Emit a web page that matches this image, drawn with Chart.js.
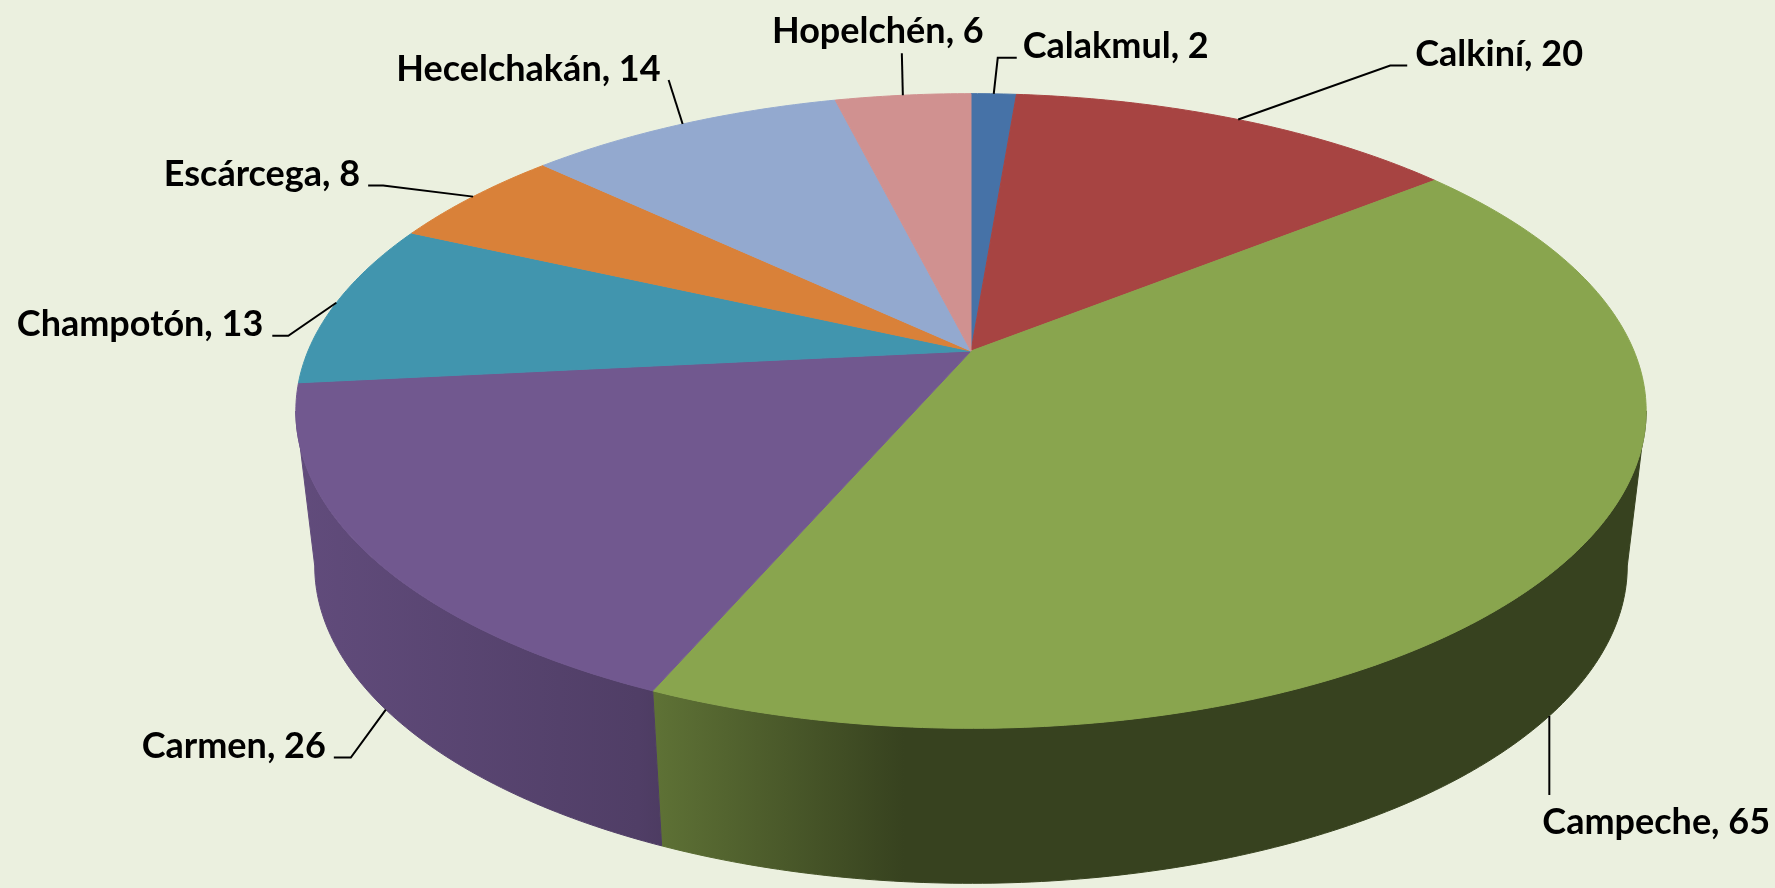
<!DOCTYPE html>
<html>
<head>
<meta charset="utf-8">
<title>Municipios de Campeche</title>
<script src="https://cdn.jsdelivr.net/npm/chart.js@4/dist/chart.umd.min.js"></script>
<style>
    html, body { margin: 0; padding: 0; background: #EBF0DF; overflow: hidden; }
    #chart { display: block; }
</style>
</head>
<body>
<canvas id="chart" width="1775" height="888"></canvas>
<script>
var municipios = ["Calakmul", "Calkiní", "Campeche", "Carmen", "Champotón", "Escárcega", "Hecelchakán", "Hopelchén"];
var valores = [2, 20, 65, 26, 13, 8, 14, 6];

var colores = ["#4672A7", "#A74442", "#89A54E", "#71588F", "#4195AE", "#D98139", "#93A9CF", "#D09190"];

(function(global){
    "use strict";

    // geometry of the tilted pie (perspective view)
    var PIE3D = {
        cx: 971, cy: 351,
        rx: 663, ry: 306,
        persp: 0.189,
        depth: 155,
        baseScale: 0.972
    };

    // leader line + label placement, relative to the slice anchor
    var labelLayout = [
        { base: false, ex: 4,   ey: -36, hx: 19,  align: "left",   tx: 6,   ty: 0 },
        { base: false, ex: 152, ey: -54, hx: 17,  align: "left",   tx: 8,   ty: 0 },
        { base: true,  ex: 0,   ey: 79,  hx: 0,   align: "left",   tx: -7,  ty: 39 },
        { base: true,  ex: -35, ey: 48,  hx: -17, align: "right",  tx: -8,  ty: 0 },
        { base: false, ex: -48, ey: 33,  hx: -16, align: "right",  tx: -9,  ty: 0 },
        { base: false, ex: -90, ey: -11, hx: -15, align: "right",  tx: -8,  ty: 0 },
        { base: false, ex: -14, ey: -44, hx: 0,   align: "right",  tx: -8,  ty: 1 },
        { base: false, ex: -1,  ey: -42, hx: 0,   align: "center", tx: -24, ty: -10 }
    ];

    var project = function(theta, base) {
        var u = Math.cos(theta);
        var v = -Math.sin(theta);
        var w = 1 + PIE3D.persp * v;
        var s = base ? PIE3D.baseScale : 1;
        return {
            x: PIE3D.cx + PIE3D.rx * s * u / w,
            y: PIE3D.cy - PIE3D.ry * v / w + (base ? PIE3D.depth : 0)
        };
    };

    var shade = function(hex, f) {
        var n = parseInt(hex.slice(1), 16);
        var r = Math.round(((n >> 16) & 255) * f);
        var g = Math.round(((n >> 8) & 255) * f);
        var b = Math.round((n & 255) * f);
        return "rgb(" + r + "," + g + "," + b + ")";
    };

    var arcPoints = function(a0, a1, base) {
        var pts = [];
        var steps = Math.max(2, Math.ceil(Math.abs(a1 - a0) * 80));
        for(var i = 0; i <= steps; i++) {
            pts.push(project(a0 + (a1 - a0) * i / steps, base));
        }
        return pts;
    };

    var drawWalls = function(ctx, arcs) {
        // only the part of the rim that faces the viewer
        var edge = Math.asin(PIE3D.persp);
        for(var i = 0; i < arcs.length; i++) {
            var a0 = Math.max(arcs[i].startAngle, edge);
            var a1 = Math.min(arcs[i].endAngle, Math.PI - edge);
            if(a1 <= a0) {
                continue;
            }
            var top = arcPoints(a0, a1, false);
            var bot = arcPoints(a1, a0, true);
            var color = arcs[i].options.backgroundColor;

            var grad = ctx.createLinearGradient(260, 0, 1660, 0);
            grad.addColorStop(0, shade(color, 0.88));
            grad.addColorStop(0.27, shade(color, 0.71));
            grad.addColorStop(0.46, shade(color, 0.40));
            grad.addColorStop(1, shade(color, 0.40));

            ctx.beginPath();
            ctx.moveTo(top[0].x, top[0].y);
            for(var j = 1; j < top.length; j++) {
                ctx.lineTo(top[j].x, top[j].y);
            }
            for(var k = 0; k < bot.length; k++) {
                ctx.lineTo(bot[k].x, bot[k].y);
            }
            ctx.closePath();
            ctx.fillStyle = grad;
            ctx.strokeStyle = grad;
            ctx.lineWidth = 1;
            ctx.fill();
            ctx.stroke();
        }
    };

    var drawTops = function(ctx, arcs) {
        for(var i = 0; i < arcs.length; i++) {
            var pts = arcPoints(arcs[i].startAngle, arcs[i].endAngle, false);
            ctx.beginPath();
            ctx.moveTo(PIE3D.cx, PIE3D.cy);
            for(var j = 0; j < pts.length; j++) {
                ctx.lineTo(pts[j].x, pts[j].y);
            }
            ctx.closePath();
            ctx.fillStyle = arcs[i].options.backgroundColor;
            ctx.strokeStyle = arcs[i].options.backgroundColor;
            ctx.lineWidth = 1;
            ctx.fill();
            ctx.stroke();
        }
    };

    var drawLabels = function(ctx, arcs, labels, data) {
        ctx.save();
        ctx.strokeStyle = "#000000";
        ctx.fillStyle = "#000000";
        ctx.lineWidth = 2;
        ctx.font = "bold 36px Lato";
        ctx.textBaseline = "alphabetic";

        for(var i = 0; i < arcs.length; i++) {
            var lay = labelLayout[i];
            var mid = (arcs[i].startAngle + arcs[i].endAngle) / 2;
            var p = project(mid, lay.base);
            var elbow = { x: p.x + lay.ex, y: p.y + lay.ey };
            var end = { x: elbow.x + lay.hx, y: elbow.y };

            ctx.beginPath();
            ctx.moveTo(p.x, p.y);
            ctx.lineTo(elbow.x, elbow.y);
            if(lay.hx) {
                ctx.lineTo(end.x, end.y);
            }
            ctx.stroke();

            ctx.textAlign = lay.align;
            ctx.fillText(labels[i] + ", " + data[i], end.x + lay.tx, end.y + lay.ty);
        }
        ctx.restore();
    };

    var pie3dPlugin = {
        id: "pie3d",
        beforeDatasetsDraw: function(chart) {
            var ctx = chart.ctx;
            var arcs = chart.getDatasetMeta(0).data;

            ctx.save();
            drawWalls(ctx, arcs);
            drawTops(ctx, arcs);
            ctx.restore();

            drawLabels(ctx, arcs, chart.data.labels, chart.data.datasets[0].data);

            return false; // the flat pie is replaced by the 3d one
        }
    };

    global.chart = new Chart(document.getElementById("chart"), {
        type: "pie",
        data: {
            labels: municipios,
            datasets: [{
                data: valores,
                backgroundColor: colores,
                borderWidth: 0
            }]
        },
        options: {
            responsive: false,
            animation: false,
            devicePixelRatio: 1,
            plugins: {
                legend: { display: false },
                tooltip: { enabled: false }
            }
        },
        plugins: [pie3dPlugin]
    });

})(window);
</script>
</body>
</html>
